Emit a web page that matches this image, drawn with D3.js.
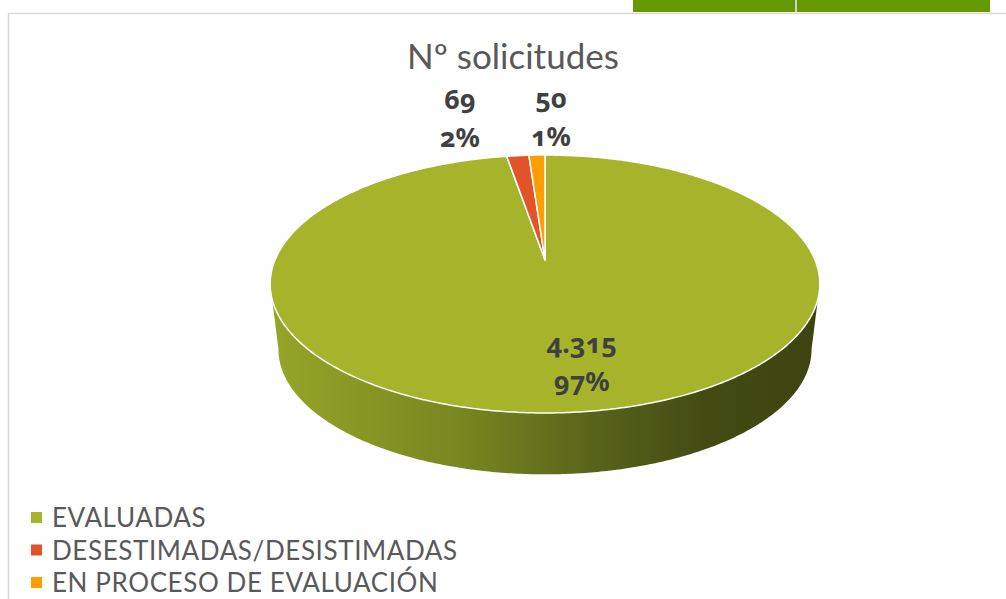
<!DOCTYPE html>
<html lang="es">
<head>
<meta charset="UTF-8">
<script src="https://d3js.org/d3.v7.min.js"></script>
<style>
  body { margin: 0; background: #fff; }
  text { font-family: Lato, "Open Sans", sans-serif; }
  .num { font-family: "Noto Sans", Lato, sans-serif; font-variant-numeric: oldstyle-nums; font-feature-settings: "onum" 1; }
</style>
</head>
<body>
<svg id="chart" width="1006" height="599"></svg>
<script>
// datos
const categorias = ["EVALUADAS", "DESESTIMADAS/DESISTIMADAS", "EN PROCESO DE EVALUACIÓN"];
const solicitudes = [4315, 69, 50];
const colores = ["#a5b42b", "#e2532a", "#ff9e00"];
const titulo = "Nº solicitudes";

const width = 1006, height = 599;
const svg = d3.select("#chart");

// marco y celdas verdes de arriba (restos de la hoja)
svg.append("rect").attr("x", 633).attr("y", 0).attr("width", 357).attr("height", 12).attr("fill", "#669900");
svg.append("line").attr("x1", 796).attr("x2", 796).attr("y1", 0).attr("y2", 12).attr("stroke", "#d0d0d0").attr("stroke-width", 2);
svg.append("path")
  .attr("d", `M8.5,${height} V13.5 H${width}`)
  .attr("fill", "none").attr("stroke", "#d9d9d9").attr("stroke-width", 1.5);

// titulo
svg.append("text")
  .attr("x", 513).attr("y", 69)
  .attr("text-anchor", "middle")
  .style("font-size", "35px")
  .attr("fill", "#595959")
  .text(titulo);

// proyeccion en perspectiva del disco
const cx = 545, cy = 260, rx = 270, ry = 124.5, k = 0.186, depth = 66, shrink = 0.97;
function proj(a, r, nivel) {
  const u = r * Math.sin(a), v = -r * Math.cos(a);
  const w = 1 - k * v;
  const s = nivel ? shrink : 1;
  return [cx + s * rx * u / w, cy + nivel * depth + s * ry * v / w];
}
function borde(a0, a1, r, nivel) {
  const n = Math.max(2, Math.ceil(Math.abs(a1 - a0) / 0.01));
  return d3.range(n + 1).map(i => proj(a0 + (a1 - a0) * i / n, r, nivel));
}

const pie = d3.pie().sort(null).value(d => d);
const arcs = pie(solicitudes);
const total = d3.sum(solicitudes);

// lado visible (entre las siluetas)
const aR = Math.PI - Math.acos(k), aL = Math.PI + Math.acos(k);
const grad = svg.append("defs").append("linearGradient")
  .attr("id", "lado").attr("gradientUnits", "userSpaceOnUse")
  .attr("x1", cx - rx).attr("x2", cx + rx).attr("y1", 0).attr("y2", 0);
[[0, "#95a528"], [0.35, "#77861f"], [0.6, "#57621a"], [0.8, "#434b13"], [1, "#3d4410"]]
  .forEach(([o, c]) => grad.append("stop").attr("offset", o).attr("stop-color", c));

const linea = d3.line();
arcs.forEach((d, i) => {
  const a0 = Math.max(d.startAngle, aR), a1 = Math.min(d.endAngle, aL);
  if (a1 <= a0) return;
  const pts = borde(a0, a1, 1, 0).concat(borde(a1, a0, 1, 1));
  svg.append("path")
    .attr("d", linea(pts) + "Z")
    .attr("fill", i === 0 ? "url(#lado)" : d3.color(colores[i]).darker(1.2));
});

// cara superior
arcs.forEach((d, i) => {
  const pts = [proj(0, 0, 0)].concat(borde(d.startAngle, d.endAngle, 1, 0));
  svg.append("path")
    .attr("d", linea(pts) + "Z")
    .attr("fill", colores[i])
    .attr("stroke", "#fff")
    .attr("stroke-width", 1.5)
    .attr("stroke-linejoin", "round");
});

// etiquetas
const es = d3.formatLocale({ decimal: ",", thousands: ".", grouping: [3], currency: ["", "€"] });
const fmtNum = es.format(",d"), fmtPct = d3.format(".0%");

const etiquetas = arcs.map((d, i) => {
  const mid = (d.startAngle + d.endAngle) / 2;
  const frac = d.value / total;
  const dentro = frac > 0.1;
  const p = proj(mid, dentro ? 0.75 : 1, 0);
  return { i, x: p[0], y: p[1], dentro, texto: [fmtNum(d.value), fmtPct(frac)] };
});
// las de fuera se separan hacia la izquierda para no pisarse
const fuera = etiquetas.filter(e => !e.dentro).sort((a, b) => b.x - a.x);
fuera.forEach((e, j) => {
  if (j === 0) e.x += 14;
  else e.x = Math.min(e.x, fuera[j - 1].x - 91);
});

etiquetas.forEach(e => {
  const t = svg.append("text")
    .attr("class", "num")
    .attr("text-anchor", "middle")
    .attr("fill", "#404040")
    .style("font-size", "27px")
    .style("font-weight", "bold");
  const yBase = e.dentro ? e.y - 15 : e.y - 47;
  e.texto.forEach((s, j) => {
    t.append("tspan").attr("x", e.dentro ? e.x + 17 : e.x).attr("y", yBase + j * 38).text(s);
  });
});

// leyenda
const ley = svg.append("g").attr("transform", "translate(31,0)");
categorias.forEach((c, i) => {
  const y = 527 + i * 32.5;
  ley.append("rect").attr("x", 0).attr("y", y - 15).attr("width", 11).attr("height", 11).attr("fill", colores[i]);
  ley.append("text").attr("x", 21).attr("y", y)
    .style("font-size", "26px").style("letter-spacing", "0.6px")
    .attr("fill", "#595959").text(c);
});
</script>
</body>
</html>
